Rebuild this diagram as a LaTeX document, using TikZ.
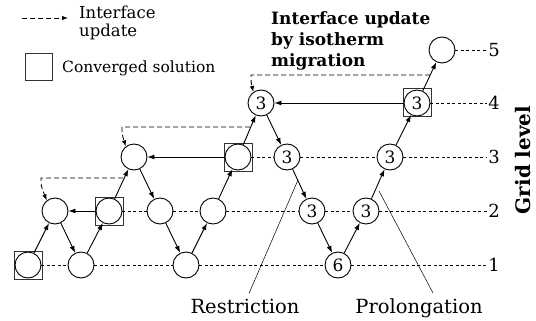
\documentclass[tikz,border=0pt]{standalone}
\usepackage{fontspec}
\setmainfont{DejaVu Serif}
\usetikzlibrary{arrows.meta}
\begin{document}
\begin{tikzpicture}[x=1pt,y=-1pt,
  cnode/.style={circle,draw,line width=0.9pt,minimum size=26pt,inner sep=0pt,font=\fontsize{17}{17}\selectfont},
  sqbox/.style={rectangle,draw=black!80,line width=1pt,minimum size=28pt,inner sep=0pt},
  flow/.style={-{Latex[length=7pt,width=5pt]},line width=0.9pt},
  lvl/.style={dash pattern=on 3pt off 2.5pt,line width=0.5pt},
  iface/.style={dash pattern=on 5pt off 3pt,line width=0.85pt,-{Latex[length=6pt,width=4.5pt]}},
  lvlnum/.style={font=\fontsize{18}{18}\selectfont,inner sep=1pt},
  lbl/.style={font=\fontsize{19.5}{19.5}\selectfont,inner sep=1pt,anchor=base}]
\useasboundingbox (0,0) rectangle (536,321);

% boxes for converged solutions
\node[sqbox] (bA) at (28,265) {};
\node[sqbox] (bD) at (109,211) {};
\node[sqbox] (bI) at (238,157) {};
\node[sqbox] (bP) at (417,103) {};

% nodes
\node[cnode] (A1) at (28,265) {};
\node[cnode] (B2) at (55,211) {};
\node[cnode] (C1) at (81,265) {};
\node[cnode] (D2) at (109,211) {};
\node[cnode] (E3) at (134,157) {};
\node[cnode] (F2) at (160,211) {};
\node[cnode] (G1) at (186,265) {};
\node[cnode] (H2) at (213,211) {};
\node[cnode] (I3) at (238,157) {};
\node[cnode] (J4) at (261,103) {3};
\node[cnode] (K3) at (287,157) {3};
\node[cnode] (L2) at (312,211) {3};
\node[cnode] (M1) at (338,265) {6};
\node[cnode] (N2) at (366,211) {3};
\node[cnode] (O3) at (390,157) {3};
\node[cnode] (P4) at (417,103) {3};
\node[cnode] (Q5) at (442,50) {};

% level labels
\node[lvlnum] (n5) at (494,50) {5};
\node[lvlnum] (n4) at (494,103) {4};
\node[lvlnum] (n3) at (494,157) {3};
\node[lvlnum] (n2) at (494,211) {2};
\node[lvlnum] (n1) at (494,265) {1};
\node[rotate=90,font=\bfseries\fontsize{20}{20}\selectfont] (gl) at (523,160) {Grid level};

% level lines
\draw[lvl] (A1) -- (C1);
\draw[lvl] (C1) -- (G1);
\draw[lvl] (G1) -- (M1);
\draw[lvl] (M1) -- (n1);
\draw[lvl] (D2) -- (F2);
\draw[lvl] (F2) -- (H2);
\draw[lvl] (H2) -- (L2);
\draw[lvl] (L2) -- (N2);
\draw[lvl] (N2) -- (n2);
\draw[lvl] (I3) -- (K3);
\draw[lvl] (K3) -- (O3);
\draw[lvl] (O3) -- (n3);
\draw[lvl] (P4) -- (n4);
\draw[lvl] (Q5) -- (n5);

% cycle arrows
\draw[flow] (A1) -- (B2);
\draw[flow] (B2) -- (C1);
\draw[flow] (C1) -- (D2);
\draw[flow] (D2) -- (B2);
\draw[flow] (D2) -- (E3);
\draw[flow] (E3) -- (F2);
\draw[flow] (F2) -- (G1);
\draw[flow] (G1) -- (H2);
\draw[flow] (H2) -- (I3);
\draw[flow] (I3) -- (E3);
\draw[flow] (I3) -- (J4);
\draw[flow] (J4) -- (K3);
\draw[flow] (K3) -- (L2);
\draw[flow] (L2) -- (M1);
\draw[flow] (M1) -- (N2);
\draw[flow] (N2) -- (O3);
\draw[flow] (O3) -- (P4);
\draw[flow] (P4) -- (J4);
\draw[flow] (P4) -- (Q5);

% interface updates
\coordinate (s1) at (123,178);
\coordinate (s2) at (250,127);
\coordinate (s3) at (430,75);
\draw[iface] (s1) -- (41,178) .. controls (41,186) .. (B2.128);
\draw[iface] (s2) -- (122,127) .. controls (122,134) .. (E3.128);
\draw[iface] (s3) -- (251,75) .. controls (251,82) .. (J4.125);

% restriction / prolongation
\node[lbl] (restr) at (245,313) {Restriction};
\node[lbl] (prol) at (419,313) {Prolongation};
\coordinate (rp) at (298,180);
\coordinate (pp) at (379,191);
\draw[line width=0.5pt] ([xshift=4pt,yshift=4pt]restr.north) -- (rp);
\draw[line width=0.5pt] ([xshift=14pt,yshift=4pt]prol.north) -- (pp);

% legend
\coordinate (lg0) at (22,18);
\coordinate (lg1) at (68,18);
\draw[iface] (lg0) -- (lg1);
\node[anchor=north west,align=left,inner sep=0pt,font=\fontsize{16.5}{18}\selectfont] (lt1) at (79,6) {Interface\\update};
\node[sqbox,minimum size=27pt] (lsq) at (39,67) {};
\node[anchor=west,inner sep=0pt,font=\fontsize{15.5}{17}\selectfont] (lt2) at (62,68) {Converged solution};

% title
\node[anchor=north west,align=left,inner sep=0pt,font=\bfseries\fontsize{17}{21}\selectfont] (title) at (271,11) {Interface update\\by isotherm\\migration};
\end{tikzpicture}
\end{document}
